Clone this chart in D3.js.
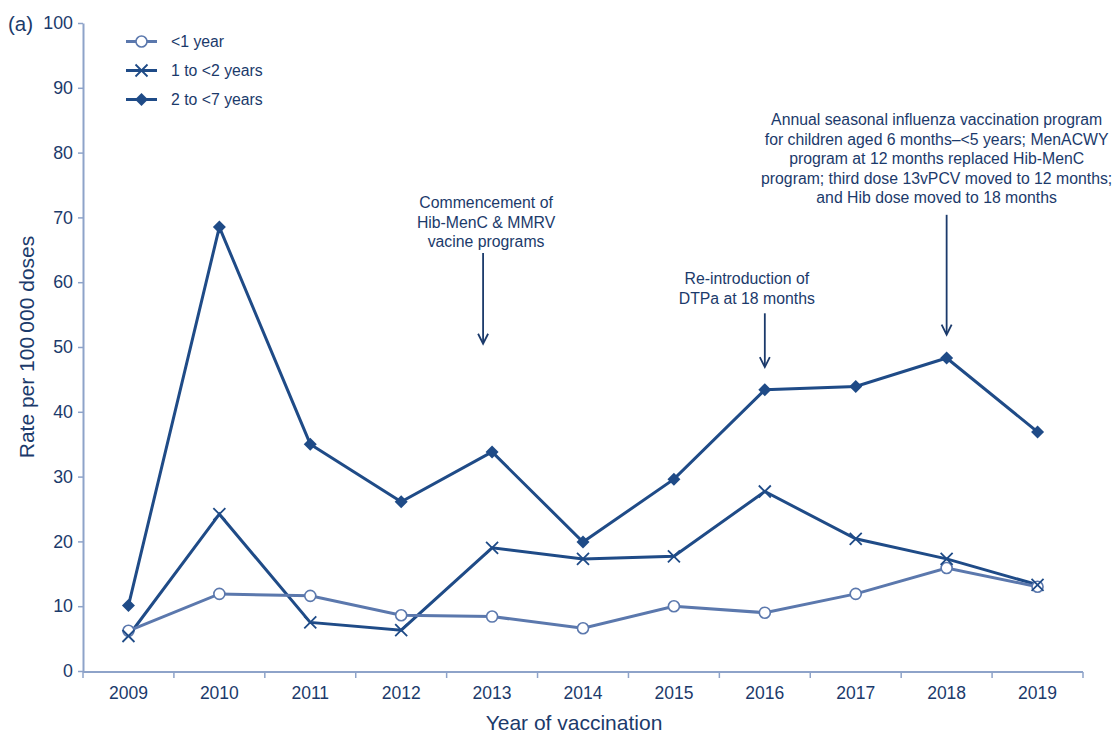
<!DOCTYPE html>
<html>
<head>
<meta charset="utf-8">
<script src="https://cdn.jsdelivr.net/npm/d3@7"></script>
<style>
  html, body { margin: 0; padding: 0; background: #fff; }
  svg { display: block; font-family: "Liberation Sans", Arial, Helvetica, sans-serif; }
</style>
</head>
<body>
<svg id="chart" width="1116" height="733"></svg>
<script>
// Adverse event rates by age group and year of vaccination
const years = ["2009", "2010", "2011", "2012", "2013", "2014", "2015", "2016", "2017", "2018", "2019"];
const under1 = [6.2, 11.9, 11.6, 8.6, 8.4, 6.6, 10.0, 9.0, 11.9, 15.9, 13.0];
const age1to2 = [5.4, 24.2, 7.5, 6.3, 19.0, 17.3, 17.7, 27.7, 20.4, 17.3, 13.3];
const age2to7 = [10.1, 68.5, 35.0, 26.1, 33.8, 19.9, 29.6, 43.4, 43.9, 48.3, 36.9];
const seriesNames = ["<1 year", "1 to <2 years", "2 to <7 years"];
const yTicks = [0, 10, 20, 30, 40, 50, 60, 70, 80, 90, 100];

// Programme changes flagged on the chart
const noteYears = ["2013", "2016", "2018"];
const noteTexts = [
  ["Commencement of", "Hib-MenC & MMRV", "vacine programs"],
  ["Re-introduction of", "DTPa at 18 months"],
  ["Annual seasonal influenza vaccination program",
   "for children aged 6 months\u2013<5 years; MenACWY",
   "program at 12 months replaced Hib-MenC",
   "program; third dose 13vPCV moved to 12 months;",
   "and Hib dose moved to 18 months"]
];

const textColor = "#1b3a6b";
const axisColor = "#8ea3c9";
const darkLine = "#1f4b87";
const lightLine = "#5b78ad";

const svg = d3.select("#chart");
const plotLeft = 83, plotRight = 1083, plotTop = 23, plotBottom = 671;

const x = d3.scaleBand().domain(years).range([plotLeft, plotRight]);
const y = d3.scaleLinear().domain([0, 100]).range([plotBottom, plotTop]);
const cx = d => x(d) + x.bandwidth() / 2;

// Y axis
const yAxis = svg.append("g").attr("transform", `translate(${plotLeft},0)`)
  .call(d3.axisLeft(y).tickValues(yTicks).tickSize(5).tickPadding(5).tickSizeOuter(0));
yAxis.select(".domain").attr("stroke", axisColor).attr("stroke-width", 2);
yAxis.selectAll(".tick line").attr("stroke", axisColor).attr("stroke-width", 1.5);
yAxis.selectAll(".tick text").attr("fill", textColor).style("font-size", "17.8px")
  .style("font-family", "'Liberation Sans', Arial, sans-serif");

// X axis: ticks on band boundaries, labels at band centres
const xAxis = svg.append("g").attr("transform", `translate(0,${plotBottom + 1})`);
xAxis.append("line").attr("x1", plotLeft).attr("x2", plotRight).attr("stroke", axisColor).attr("stroke-width", 2);
const bounds = years.map(d => x(d)).concat([plotRight]);
xAxis.selectAll("line.tk").data(bounds).join("line").attr("class", "tk")
  .attr("x1", d => d).attr("x2", d => d).attr("y1", 0).attr("y2", 6)
  .attr("stroke", axisColor).attr("stroke-width", 1.5);
xAxis.selectAll("text").data(years).join("text")
  .attr("x", cx).attr("y", 27).attr("text-anchor", "middle")
  .attr("fill", textColor).style("font-size", "17.5px").text(d => d);

// Axis titles
svg.append("text").attr("x", (plotLeft + plotRight) / 2 - 9).attr("y", 730)
  .attr("text-anchor", "middle").attr("fill", textColor).style("font-size", "21px")
  .text("Year of vaccination");
svg.append("text").attr("transform", "translate(34,347) rotate(-90)")
  .attr("text-anchor", "middle").attr("fill", textColor).style("font-size", "21px")
  .text("Rate per 100\u2009000 doses");
svg.append("text").attr("x", 8).attr("y", 31).attr("fill", textColor)
  .style("font-size", "20.5px").text("(a)");

// Markers
function drawMarker(g, kind, color) {
  if (kind === "circle") {
    g.append("circle").attr("r", 5.5).attr("fill", "#fff").attr("stroke", color).attr("stroke-width", 1.6);
  } else if (kind === "cross") {
    g.append("path").attr("d", "M-6,-6L6,6M-6,6L6,-6").attr("stroke", color).attr("stroke-width", 1.8).attr("fill", "none");
  } else {
    g.append("path").attr("d", "M0,-6.5L6.5,0L0,6.5L-6.5,0Z").attr("fill", color);
  }
}

const series = [
  { name: seriesNames[0], values: under1, color: lightLine, marker: "circle" },
  { name: seriesNames[1], values: age1to2, color: darkLine, marker: "cross" },
  { name: seriesNames[2], values: age2to7, color: darkLine, marker: "diamond" }
];

const line = d3.line().x((d, i) => cx(years[i])).y(d => y(d));

// Draw dark series over the light one
[series[2], series[1], series[0]].forEach(s => {
  svg.append("path").datum(s.values).attr("d", line)
    .attr("fill", "none").attr("stroke", s.color).attr("stroke-width", 3)
    .attr("stroke-linejoin", "miter");
});
[series[2], series[0], series[1]].forEach(s => {
  s.values.forEach((v, i) => {
    const g = svg.append("g").attr("transform", `translate(${cx(years[i])},${y(v)})`);
    drawMarker(g, s.marker, s.color);
  });
});

// Legend
const legend = svg.append("g");
series.forEach((s, i) => {
  const ly = 41.5 + i * 29;
  legend.append("line").attr("x1", 126).attr("x2", 157).attr("y1", ly).attr("y2", ly)
    .attr("stroke", s.color).attr("stroke-width", 3);
  const g = legend.append("g").attr("transform", `translate(141.5,${ly})`);
  drawMarker(g, s.marker, s.color);
  legend.append("text").attr("x", 171).attr("y", ly + 5.5).attr("fill", textColor)
    .style("font-size", "15.8px").text(s.name);
});

// Annotations with arrows
const noteLayout = [
  { dx: -6, textY: 208, arrowTop: 64.5, arrowBottom: 50.5, ax: -9 },
  { dx: -18, textY: 284, arrowTop: 55.2, arrowBottom: 46.9, ax: 0 },
  { dx: -10, textY: 125, arrowTop: 70.4, arrowBottom: 51.9, ax: 0 }
];
noteYears.forEach((yr, k) => {
  const L = noteLayout[k];
  const t = svg.append("text").attr("text-anchor", "middle").attr("fill", textColor)
    .style("font-size", "15.8px");
  noteTexts[k].forEach((s, j) => {
    t.append("tspan").attr("x", cx(yr) + L.dx).attr("y", L.textY + j * 19.5).text(s);
  });
  const axp = cx(yr) + L.ax;
  const y1 = y(L.arrowTop), y2 = y(L.arrowBottom);
  svg.append("line").attr("x1", axp).attr("x2", axp).attr("y1", y1).attr("y2", y2 - 1)
    .attr("stroke", textColor).attr("stroke-width", 1.8);
  svg.append("path").attr("d", `M${axp - 5},${y2 - 10}L${axp},${y2}L${axp + 5},${y2 - 10}`)
    .attr("fill", "none").attr("stroke", textColor).attr("stroke-width", 1.8);
});
</script>
</body>
</html>
